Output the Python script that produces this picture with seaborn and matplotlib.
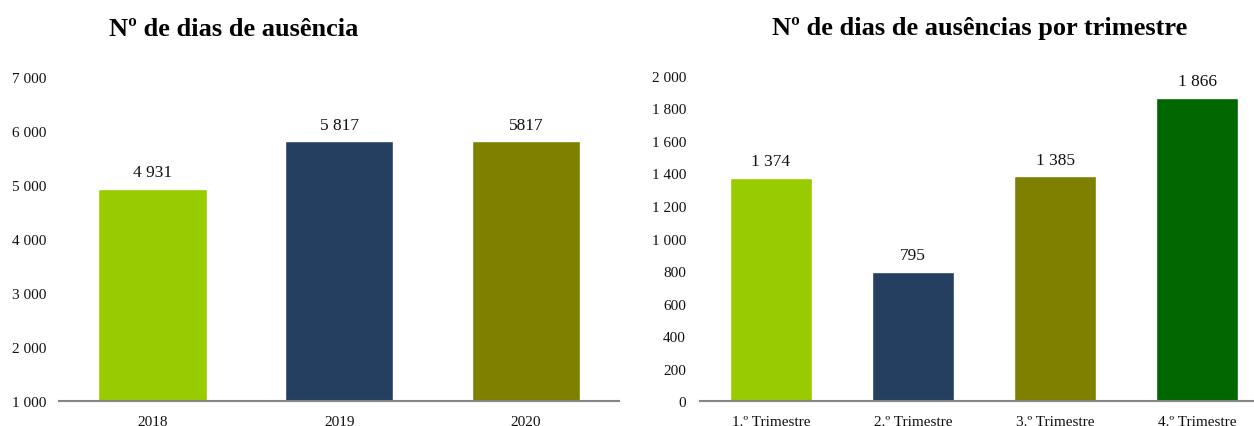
import matplotlib
matplotlib.use("Agg")
import matplotlib.pyplot as plt
import seaborn as sns
import pandas as pd
from matplotlib.ticker import FuncFormatter, MultipleLocator

sns.set_style("white")
plt.rcParams['font.family'] = ['Liberation Serif', 'DejaVu Serif']

years = ["2018", "2019", "2020"]
year_values = [4931, 5817, 5817]
year_labels = ["4 931", "5 817", "5817"]
year_colors = ["#99CC00", "#243F60", "#808000"]

quarters = ["1.º Trimestre", "2.º Trimestre", "3.º Trimestre", "4.º Trimestre"]
quarter_values = [1374, 795, 1385, 1866]
quarter_labels = ["1 374", "795", "1 385", "1 866"]
quarter_colors = ["#99CC00", "#243F60", "#808000", "#006600"]

fig = plt.figure(figsize=(12.54, 4.27), dpi=100)
ax1 = fig.add_axes([0.047, 0.0585, 0.447, 0.7585])
ax2 = fig.add_axes([0.5582, 0.0585, 0.453, 0.7612])

fmt = FuncFormatter(lambda v, p: f"{int(v):,}".replace(",", " "))

df1 = pd.DataFrame({"cat": years, "val": year_values})
sns.barplot(data=df1, x="cat", y="val", hue="cat", palette=year_colors,
            width=0.58, ax=ax1, legend=False, saturation=1)
ax1.set_ylim(1000, 7000)
ax1.yaxis.set_major_locator(MultipleLocator(1000))
for c, lab in zip(ax1.containers, year_labels):
    ax1.bar_label(c, labels=[lab], padding=6, fontsize=12.5, color="#111111")

df2 = pd.DataFrame({"cat": quarters, "val": quarter_values})
sns.barplot(data=df2, x="cat", y="val", hue="cat", palette=quarter_colors,
            width=0.58, ax=ax2, legend=False, saturation=1)
ax2.set_ylim(0, 2000)
ax2.yaxis.set_major_locator(MultipleLocator(200))
for c, lab in zip(ax2.containers, quarter_labels):
    ax2.bar_label(c, labels=[lab], padding=6, fontsize=12.5, color="#111111")

for ax in (ax1, ax2):
    ax.yaxis.set_major_formatter(fmt)
    ax.set_xlabel("")
    ax.set_ylabel("")
    for s in ["top", "right", "left"]:
        ax.spines[s].set_visible(False)
    ax.spines["bottom"].set_color("#868686")
    ax.spines["bottom"].set_linewidth(1.5)
    ax.spines["bottom"].set_clip_on(True)
    ax.tick_params(axis="both", length=0, labelsize=11, colors="#111111")
    ax.tick_params(axis="x", pad=10)
    ax.tick_params(axis="y", pad=9)
ax2.tick_params(axis="y", pad=10)

fig.text(234 / 1254, 1 - 29 / 427, "Nº de dias de ausência", ha="center", va="center",
         fontsize=19, fontweight="bold", color="#000000")
fig.text(980 / 1254, 1 - 29 / 427, "Nº de dias de ausências por trimestre", ha="center", va="center",
         fontsize=19, fontweight="bold", color="#000000")

fig.savefig("out.png", dpi=100)
